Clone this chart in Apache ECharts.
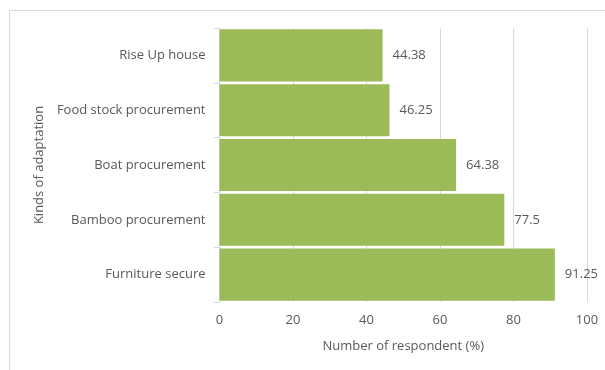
<!DOCTYPE html>
<html><head><meta charset="utf-8">
<script src="https://cdn.jsdelivr.net/npm/echarts@6/dist/echarts.min.js"></script>
<style>html,body{margin:0;padding:0;background:#fff}#c{width:605px;height:370px}</style>
</head><body><div id="c"></div>
<script>
const categories = ["Furniture secure", "Bamboo procurement", "Boat procurement", "Food stock procurement", "Rise Up house"];
const values = [91.25, 77.5, 64.38, 46.25, 44.38];
const xTicks = [0, 20, 40, 60, 80, 100];
const xTitle = "Number of respondent (%)";
const yTitle = "Kinds of adaptation";

const font = "Open Sans";
const txt = "#595959";
const fs = 13;
const chart = echarts.init(document.getElementById('c'), null, {renderer: 'canvas'});
chart.setOption({
  animation: false,
  textStyle: {fontFamily: font},
  graphic: [{type: 'rect', shape: {x: 9.5, y: 10.5, width: 700, height: 500}, style: {fill: 'none', stroke: '#d9d9d9', lineWidth: 1}, silent: true}],
  grid: {left: 219.5, right: 18, top: 28, bottom: 68, containLabel: false},
  xAxis: {
    type: 'value', min: xTicks[0], max: xTicks[xTicks.length - 1], interval: 20,
    axisLine: {show: false}, axisTick: {show: false},
    splitLine: {show: true, lineStyle: {color: '#d9d9d9', width: 1}},
    axisLabel: {color: txt, fontSize: fs, fontFamily: font, margin: 12},
    name: xTitle, nameLocation: 'middle', nameGap: 38,
    nameTextStyle: {color: txt, fontSize: fs, fontFamily: font}
  },
  yAxis: {
    type: 'category', data: categories,
    axisLine: {show: true, lineStyle: {color: '#d9d9d9'}},
    axisTick: {show: true, length: 6, lineStyle: {color: '#d9d9d9'}},
    axisLabel: {color: txt, fontSize: fs, fontFamily: font, margin: 14},
    name: yTitle, nameLocation: 'middle', nameGap: 173, nameRotate: 90,
    nameTextStyle: {color: txt, fontSize: fs, fontFamily: font}
  },
  series: [{
    type: 'bar', data: values, barCategoryGap: '5%',
    itemStyle: {color: '#9bbb59'},
    label: {show: true, position: 'right', distance: 10, color: txt, fontSize: fs, fontFamily: font}
  }]
});
</script></body></html>
